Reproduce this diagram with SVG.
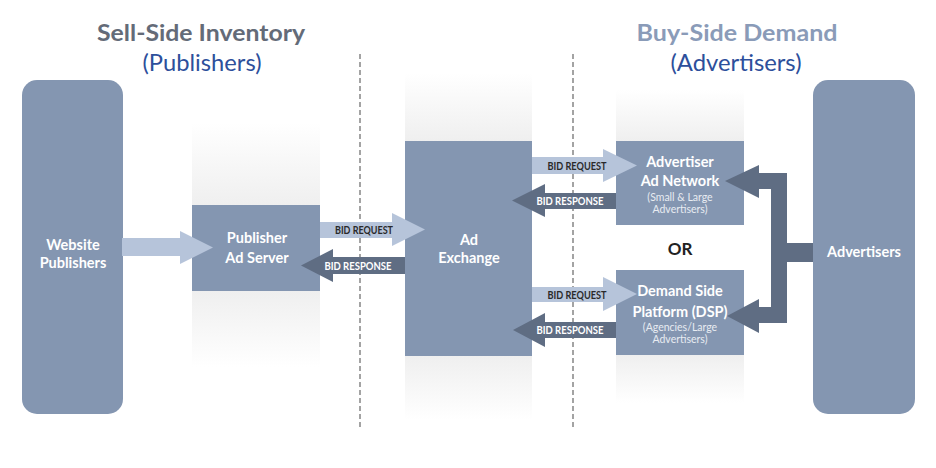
<svg xmlns="http://www.w3.org/2000/svg" width="936" height="468" viewBox="0 0 936 468">
<defs>
<linearGradient id="fadeDown" x1="0" y1="0" x2="0" y2="1">
<stop offset="0" stop-color="#ffffff"/>
<stop offset="1" stop-color="#efefef"/>
</linearGradient>
<linearGradient id="fadeUp" x1="0" y1="0" x2="0" y2="1">
<stop offset="0" stop-color="#efefef"/>
<stop offset="1" stop-color="#ffffff"/>
</linearGradient>
<style>
.box{fill:#8496b1}
.light{fill:#b6c4da}
.dark{fill:#5f6d83}
.hdr{font-family:Lato,"Liberation Sans",sans-serif;font-weight:700;font-size:22px;text-anchor:middle}
.sub{font-family:Lato,"Liberation Sans",sans-serif;font-size:23px;fill:#2d4f9b;text-anchor:middle}
.lbl{font-family:Lato,"Liberation Sans",sans-serif;font-weight:700;font-size:14.5px;fill:#ffffff;text-anchor:middle}
.sm{font-family:Lato,"Liberation Sans",sans-serif;font-size:10.5px;fill:#e8ecf2;text-anchor:middle}
.bid{font-family:Lato,"Liberation Sans",sans-serif;font-weight:700;font-size:11.5px;text-anchor:middle}
.req{fill:#2a2a2a}
.resp{fill:#ffffff}
.dash{stroke:#a3a3a3;stroke-width:2;stroke-dasharray:5 3;fill:none}
</style>
</defs>
<rect width="936" height="468" fill="#ffffff"/>

<g id="headers">
<text class="hdr" x="201" y="41" fill="#646b78" textLength="208" lengthAdjust="spacingAndGlyphs">Sell-Side Inventory</text>
<text class="sub" x="202" y="71" textLength="119" lengthAdjust="spacingAndGlyphs">(Publishers)</text>
<text class="hdr" x="737" y="41" fill="#8a9bb8" textLength="201" lengthAdjust="spacingAndGlyphs">Buy-Side Demand</text>
<text class="sub" x="736" y="71" textLength="131" lengthAdjust="spacingAndGlyphs">(Advertisers)</text>
</g>

<g id="backgrounds">
<rect x="192" y="123" width="128" height="82" fill="url(#fadeDown)"/>
<rect x="192" y="291" width="128" height="76" fill="url(#fadeUp)"/>
<rect x="405" y="73" width="127" height="68" fill="url(#fadeDown)"/>
<rect x="405" y="356" width="127" height="64" fill="url(#fadeUp)"/>
<rect x="616" y="90" width="128" height="51" fill="url(#fadeDown)"/>
<rect x="616" y="355" width="128" height="48" fill="url(#fadeUp)"/>
</g>

<g id="dividers">
<line class="dash" x1="360" y1="54" x2="360" y2="427"/>
<line class="dash" x1="573" y1="54" x2="573" y2="427"/>
</g>

<g id="website-publishers">
<rect class="box" x="22" y="80" width="101" height="334" rx="15"/>
<text class="lbl" x="73" y="250">Website</text>
<text class="lbl" x="73" y="268">Publishers</text>
</g>

<g id="publisher-ad-server">
<rect class="box" x="192" y="205" width="128" height="86"/>
<text class="lbl" x="257" y="243">Publisher</text>
<text class="lbl" x="257" y="263">Ad Server</text>
</g>

<g id="ad-exchange">
<rect class="box" x="405" y="141" width="127" height="215"/>
<text class="lbl" x="469" y="245">Ad</text>
<text class="lbl" x="469" y="263">Exchange</text>
</g>

<g id="advertiser-ad-network">
<rect class="box" x="616" y="141" width="128" height="84"/>
<text class="lbl" x="680" y="167">Advertiser</text>
<text class="lbl" x="680" y="186">Ad Network</text>
<text class="sm" x="680" y="201">(Small &amp; Large</text>
<text class="sm" x="680" y="213">Advertisers)</text>
</g>

<g id="or-label">
<text x="680" y="255" font-family="Lato,'Liberation Sans',sans-serif" font-weight="700" font-size="17" fill="#222222" text-anchor="middle">OR</text>
</g>

<g id="dsp">
<rect class="box" x="616" y="270" width="128" height="85"/>
<text class="lbl" x="680" y="296">Demand Side</text>
<text class="lbl" x="680" y="317">Platform (DSP)</text>
<text class="sm" x="680" y="331">(Agencies/Large</text>
<text class="sm" x="680" y="343">Advertisers)</text>
</g>

<g id="advertisers">
<rect class="box" x="813" y="80" width="102" height="334" rx="15"/>
<text class="lbl" x="864" y="257">Advertisers</text>
</g>

<g id="connectors">
<polygon class="light" points="122,238 180,238 180,231 213,247.5 180,264 180,256 122,256"/>
<polygon class="light" points="320,222 392,222 392,213 425,229.5 392,246 392,238 320,238"/>
<polygon class="dark" points="405,257 333,257 333,249 301,265.5 333,282 333,274 405,274"/>
<polygon class="light" points="532,157 603,157 603,149 637,165.5 603,182 603,174 532,174"/>
<polygon class="dark" points="616,193 545,193 545,184 512,200.5 545,217 545,209 616,209"/>
<polygon class="light" points="532,287 603,287 603,277 637,294 603,311 603,302 532,302"/>
<polygon class="dark" points="616,322 545,322 545,313 513,330 545,347 545,338 616,338"/>
<polygon class="dark" points="813,243 787,243 787,173 759,173 759,165 725,181 759,198 759,189 771,189 771,307 759,307 759,299 727,316 759,333 759,323 787,323 787,262 813,262"/>
<text class="bid req" x="364" y="233.5" textLength="58" lengthAdjust="spacingAndGlyphs">BID REQUEST</text>
<text class="bid resp" x="358" y="269.5" textLength="67" lengthAdjust="spacingAndGlyphs">BID RESPONSE</text>
<text class="bid req" x="577" y="169.5" textLength="59" lengthAdjust="spacingAndGlyphs">BID REQUEST</text>
<text class="bid resp" x="570" y="205" textLength="67" lengthAdjust="spacingAndGlyphs">BID RESPONSE</text>
<text class="bid req" x="577" y="298.5" textLength="59" lengthAdjust="spacingAndGlyphs">BID REQUEST</text>
<text class="bid resp" x="570" y="334" textLength="67" lengthAdjust="spacingAndGlyphs">BID RESPONSE</text>
</g>
</svg>
